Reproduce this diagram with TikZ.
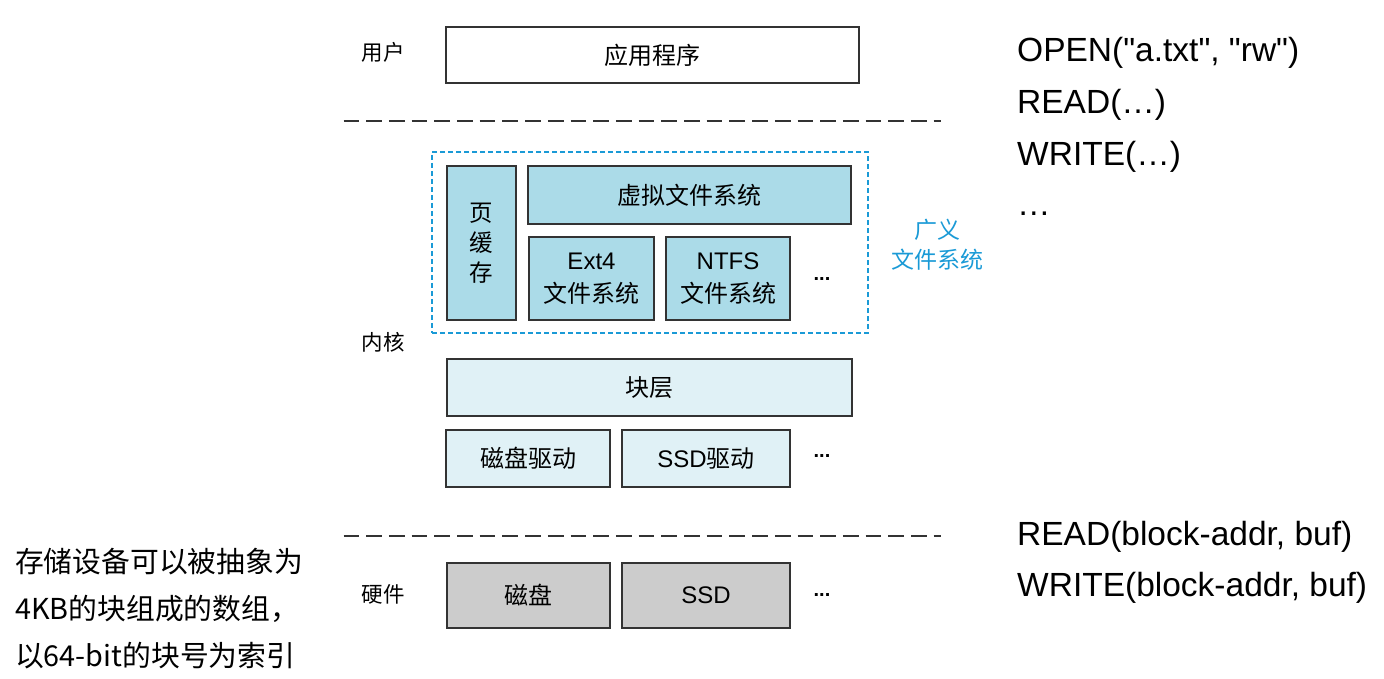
\documentclass[tikz,border=0pt]{standalone}
\usepackage{fontspec}
\setmainfont{Liberation Sans}
\newfontfamily\cjk{Noto Sans CJK SC}
\definecolor{fsblue}{HTML}{ABDBE8}
\definecolor{blklight}{HTML}{E0F1F6}
\definecolor{hwgray}{HTML}{CCCCCC}
\definecolor{edge}{HTML}{333333}
\definecolor{accent}{HTML}{1A9AD6}
\tikzset{
  box/.style={draw=edge, line width=1.5pt, inner sep=0pt, outer sep=0pt, align=center,
    font=\fontsize{24}{32}\selectfont},
  lbl/.style={inner sep=0pt, font=\cjk\fontsize{21.5}{24}\selectfont},
  sep/.style={draw=edge, line width=1.5pt, dash pattern=on 15.7pt off 7pt},
  dots/.style={inner sep=0pt, anchor=base, font=\bfseries\fontsize{20}{24}\selectfont},
  api/.style={inner sep=0pt, anchor=base west, font=\fontsize{33.5}{36}\selectfont},
  note/.style={inner sep=0pt, anchor=west, font=\cjk\fontsize{28.8}{32}\selectfont},
}
\begin{document}
\begin{tikzpicture}[x=1pt,y=-1pt]
\useasboundingbox (0,0) rectangle (1384,679);
% user level
\node[lbl] (user) at (383,52) {用户};
\node[box, minimum width=413, minimum height=56] (app) at (652.5,55) {\cjk 应用程序};
\coordinate (s1a) at (343.5,121);
\coordinate (s1b) at (941,121);
\draw[sep] (s1a) -- (s1b);
% generalized FS
\node[draw=accent, line width=1.3pt, dash pattern=on 5pt off 3pt, inner sep=0pt,
  minimum width=436, minimum height=181] (gfs) at (650,242.5) {};
\node[box, fill=fsblue, minimum width=69, minimum height=154, font=\cjk\fontsize{23.5}{30}\selectfont] (pc) at (481.5,243) {页\\缓\\存};
\node[box, fill=fsblue, minimum width=323, minimum height=58] (vfs) at (689.5,195) {\cjk 虚拟文件系统};
\node[box, fill=fsblue, minimum width=125, minimum height=83] (ext4) at (591.5,278.5) {Ext4\\[1pt]{\cjk 文件系统}};
\node[box, fill=fsblue, minimum width=124, minimum height=83] (ntfs) at (728,278.5) {NTFS\\[1pt]{\cjk 文件系统}};
\node[dots] (d1) at (822,280) {...};
\node[inner sep=0pt, align=center, text=accent, font=\cjk\fontsize{23}{30}\selectfont] (gfsl) at (937,245) {广义\\文件系统};
\node[lbl] (kernel) at (383,342) {内核};
% block layer
\node[box, fill=blklight, minimum width=405, minimum height=57] (blk) at (649.5,387.5) {\cjk 块层};
\node[box, fill=blklight, minimum width=164, minimum height=57] (hdd) at (528,458.5) {\cjk 磁盘驱动};
\node[box, fill=blklight, minimum width=168, minimum height=57] (ssdd) at (706,458.5) {SSD{\cjk 驱动}};
\node[dots] (d2) at (822,457) {...};
\coordinate (s2a) at (343.5,536);
\coordinate (s2b) at (941,536);
\draw[sep] (s2a) -- (s2b);
% hardware
\node[lbl] (hw) at (383,594) {硬件};
\node[box, fill=hwgray, minimum width=163, minimum height=65] (disk) at (528.5,595.5) {\cjk 磁盘};
\node[box, fill=hwgray, minimum width=168, minimum height=65] (ssd) at (706,595.5) {SSD};
\node[dots] (d3) at (822,596) {...};
% left note
\node[note] (n1) at (15,562) {存储设备可以被抽象为};
\node[note] (n2) at (15,609) {4KB的块组成的数组，};
\node[note] (n3) at (15,656) {以64-bit的块号为索引};
% right api text
\node[api] (a1) at (1017,62) {OPEN(\textquotedbl a.txt\textquotedbl, \textquotedbl rw\textquotedbl)};
\node[api] (a2) at (1017,114) {READ(…)};
\node[api] (a3) at (1017,166) {WRITE(…)};
\node[api] (a4) at (1017,216) {…};
\node[api] (a5) at (1017,545) {READ(block-addr, buf)};
\node[api] (a6) at (1017,596) {WRITE(block-addr, buf)};
\end{tikzpicture}
\end{document}
